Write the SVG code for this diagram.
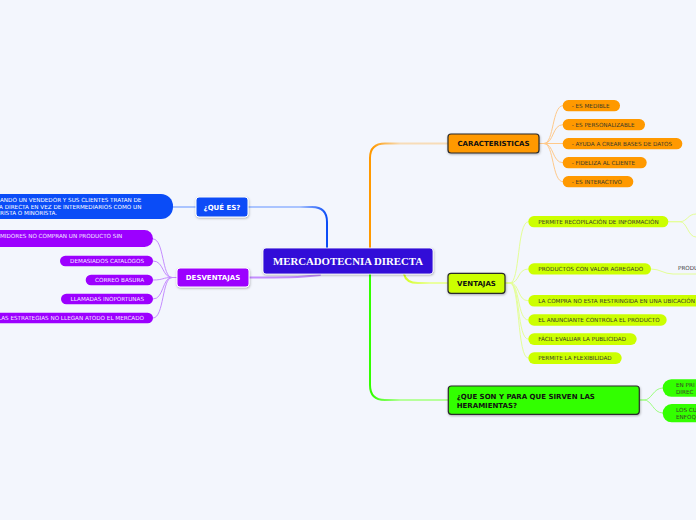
<svg xmlns="http://www.w3.org/2000/svg" width="696" height="520" viewBox="0 0 696 520">
<defs>
<style>
.lbl{font-family:"DejaVu Sans","Liberation Sans",sans-serif;font-weight:bold;font-size:7px}
.sm{font-family:"DejaVu Sans","Liberation Sans",sans-serif;font-size:5.65px}
.dk{fill:#3a3a2a}
.wt{fill:#ffffff}
.pw{fill:#f3e6ff}
.main{stroke-width:2;fill:none;stroke-linecap:round}
.thin{stroke-width:1;fill:none}
.bx{stroke:#2a2a2a;stroke-width:1.2}
.wb{stroke:#ffffff;stroke-width:1}
</style>
<filter id="sh" x="-10%" y="-20%" width="130%" height="160%">
<feDropShadow dx="0.5" dy="1" stdDeviation="0.8" flood-color="#000" flood-opacity="0.3"/>
</filter>
<linearGradient id="gB" gradientUnits="userSpaceOnUse" x1="300" y1="0" x2="327" y2="0"><stop offset="0" stop-color="#aac4ff"/><stop offset="1" stop-color="#0a4cf7"/></linearGradient>
<linearGradient id="gO" gradientUnits="userSpaceOnUse" x1="372" y1="0" x2="400" y2="0"><stop offset="0" stop-color="#ff9900"/><stop offset="1" stop-color="#f7dcb8"/></linearGradient>
<linearGradient id="gG" gradientUnits="userSpaceOnUse" x1="372" y1="0" x2="400" y2="0"><stop offset="0" stop-color="#33ff00"/><stop offset="1" stop-color="#b6ff9c"/></linearGradient>
<linearGradient id="gY" gradientUnits="userSpaceOnUse" x1="404" y1="0" x2="430" y2="0"><stop offset="0" stop-color="#d4ff20"/><stop offset="1" stop-color="#eaffa0"/></linearGradient>
</defs>
<rect width="696" height="520" fill="#f3f6fd"/>

<g id="connectors">
<path class="main" stroke="url(#gB)" d="M327 248 V222 Q327 207 312 207 H248"/>
<path class="main" stroke="#aac4ff" d="M196 207 H173"/>
<path class="main" stroke="url(#gO)" d="M370 248 V158 Q370 143.5 385 143.5 H448"/>
<path class="main" stroke="url(#gG)" d="M370 274 V385 Q370 400 385 400 H448"/>
<path class="main" stroke="url(#gY)" d="M404 274 Q406 283 418 283 H448"/>
<path class="main" stroke="#c48cff" d="M320 275 C300 278 280 277.5 249 277.5"/>
<g stroke="#c48cff" class="thin">
<path d="M177 277.5 H172 C162 277.5 164 239 153 239"/>
<path d="M177 277.5 H172 C162 277.5 164 261 153 261"/>
<path d="M177 277.5 H172 C162 277.5 164 280 153 280"/>
<path d="M177 277.5 H172 C162 277.5 164 299 153 299"/>
<path d="M177 277.5 H172 C162 277.5 164 318 153 318"/>
</g>
<g stroke="#ffc98a" class="thin">
<path d="M539 143.5 H544 C554 143.5 552 105.7 563 105.7"/>
<path d="M539 143.5 H544 C554 143.5 552 124.7 563 124.7"/>
<path d="M539 143.5 H563"/>
<path d="M539 143.5 H544 C554 143.5 552 162.7 563 162.7"/>
<path d="M539 143.5 H544 C554 143.5 552 181.7 563 181.7"/>
</g>
<g stroke="#e4ff96" class="thin">
<path d="M505 283 H510 C520 283 517 221.7 528.5 221.7"/>
<path d="M505 283 H510 C520 283 517 269 528.5 269"/>
<path d="M505 283 H510 C520 283 517 300.8 528.5 300.8"/>
<path d="M505 283 H510 C520 283 517 320 528.5 320"/>
<path d="M505 283 H510 C520 283 517 339.2 528.5 339.2"/>
<path d="M505 283 H510 C520 283 517 358.2 528.5 358.2"/>
<path d="M668 221.7 H680 C687 221.7 688 214 696 214"/>
<path d="M668 221.7 H680 C687 221.7 688 237 696 237"/>
<path d="M651 269 C660 269 664 274 673 274 H696"/>
</g>
<g stroke="#9dff80" class="thin">
<path d="M639.5 400 H644 C652 400 653 388 663 388"/>
<path d="M639.5 400 H644 C652 400 653 413 663 413"/>
</g>
</g>

<g id="central">
<rect x="263" y="248" width="170" height="26" rx="3" fill="#3010d8" stroke="#ffffff" stroke-width="0.8" filter="url(#sh)"/>
<text x="348" y="264.5" text-anchor="middle" fill="#ffffff" font-family="'Liberation Serif',serif" font-weight="bold" font-size="10.5" textLength="150" lengthAdjust="spacingAndGlyphs">MERCADOTECNIA DIRECTA</text>
</g>

<g id="que-es">
<rect x="196" y="197" width="52" height="20" rx="3" fill="#0a4cf7" class="wb" filter="url(#sh)"/>
<text x="222" y="209.5" text-anchor="middle" class="lbl wt">¿QUÉ ES?</text>
</g>
<g id="que-es-desc">
<rect x="-20" y="194" width="193" height="25" rx="12" fill="#0a4cf7"/>
<text class="sm wt"><tspan x="0" y="202">ANDO UN VENDEDOR Y SUS CLIENTES TRATAN DE</tspan><tspan x="-1" y="208.7">A DIRECTA EN VEZ DE INTERMEDIARIOS COMO UN</tspan><tspan x="0" y="215.4">RISTA O MINORISTA.</tspan></text>
</g>

<g id="desventajas">
<rect x="177" y="268" width="72" height="19" rx="3" fill="#9c00ff" class="wb" filter="url(#sh)"/>
<text x="213" y="280" text-anchor="middle" class="lbl wt">DESVENTAJAS</text>
</g>
<g id="des-1">
<rect x="-20" y="230" width="173" height="17" rx="8.5" fill="#9c00ff"/>
<text x="0" y="238" class="sm pw">MIDORES NO COMPRAN UN PRODUCTO SIN</text>
</g>
<g id="des-2">
<rect x="60" y="255.7" width="93" height="10.6" rx="5.3" fill="#9c00ff"/>
<text x="144" y="263" text-anchor="end" class="sm pw">DEMASIADOS CATALOGOS</text>
</g>
<g id="des-3">
<rect x="85.7" y="274.7" width="67.3" height="10.6" rx="5.3" fill="#9c00ff"/>
<text x="144" y="282" text-anchor="end" class="sm pw">CORREO BASURA</text>
</g>
<g id="des-4">
<rect x="61" y="293.7" width="92" height="10.6" rx="5.3" fill="#9c00ff"/>
<text x="144" y="301" text-anchor="end" class="sm pw">LLAMADAS INOPORTUNAS</text>
</g>
<g id="des-5">
<rect x="-20" y="312.7" width="173" height="10.6" rx="5.3" fill="#9c00ff"/>
<text x="144" y="320" text-anchor="end" class="sm pw">LAS ESTRATEGIAS NO LLEGAN ATODO EL MERCADO</text>
</g>

<g id="caracteristicas">
<rect x="448" y="134" width="91" height="19" rx="3" fill="#ff9900" class="bx" filter="url(#sh)"/>
<text x="493.5" y="146" text-anchor="middle" class="lbl" fill="#111">CARACTERISTICAS</text>
</g>
<g id="car-1"><rect x="562.7" y="100" width="57.3" height="11.3" rx="5.6" fill="#ff9900"/><text x="571.7" y="107.7" class="sm dk">- ES MEDIBLE</text></g>
<g id="car-2"><rect x="562.7" y="119" width="82.3" height="11.3" rx="5.6" fill="#ff9900"/><text x="571.7" y="126.7" class="sm dk">- ES PERSONALIZABLE</text></g>
<g id="car-3"><rect x="562.7" y="138" width="119.6" height="11.3" rx="5.6" fill="#ff9900"/><text x="571.7" y="145.7" class="sm dk">- AYUDA A CREAR BASES DE DATOS</text></g>
<g id="car-4"><rect x="562.7" y="157" width="84" height="11.3" rx="5.6" fill="#ff9900"/><text x="571.7" y="164.7" class="sm dk">- FIDELIZA AL CLIENTE</text></g>
<g id="car-5"><rect x="562.7" y="176" width="70.6" height="11.3" rx="5.6" fill="#ff9900"/><text x="571.7" y="183.7" class="sm dk">- ES INTERACTIVO</text></g>

<g id="ventajas">
<rect x="448" y="273.3" width="57" height="20" rx="3" fill="#ccff00" class="bx" filter="url(#sh)"/>
<text x="476.5" y="285.8" text-anchor="middle" class="lbl" fill="#111">VENTAJAS</text>
</g>
<g id="ven-1"><rect x="528.3" y="216" width="140" height="11.3" rx="5.6" fill="#ccff00"/><text x="538.3" y="223.7" class="sm dk">PERMITE RECOPILACIÓN DE INFORMACIÓN</text></g>
<g id="ven-2"><rect x="528.3" y="263.3" width="122.7" height="11.3" rx="5.6" fill="#ccff00"/><text x="538.3" y="271" class="sm dk">PRODUCTOS CON VALOR AGREGADO</text></g>
<g id="ven-2-1"><text x="678" y="270" class="sm" fill="#444">PRODU</text></g>
<g id="ven-3"><rect x="528.3" y="295" width="180" height="11.6" rx="5.8" fill="#ccff00"/><text x="538.3" y="302.8" class="sm dk">LA COMPRA NO ESTA RESTRINGIDA EN UNA UBICACIÓN</text></g>
<g id="ven-4"><rect x="528.3" y="314.3" width="138.4" height="11.4" rx="5.7" fill="#ccff00"/><text x="538.3" y="322" class="sm dk">EL ANUNCIANTE CONTROLA EL PRODUCTO</text></g>
<g id="ven-5"><rect x="528.3" y="333.3" width="108.4" height="11.6" rx="5.8" fill="#ccff00"/><text x="538.3" y="341.1" class="sm dk">FÁCIL EVALUAR LA PUBLICIDAD</text></g>
<g id="ven-6"><rect x="528.3" y="352.3" width="93.4" height="11.6" rx="5.8" fill="#ccff00"/><text x="538.3" y="360.1" class="sm dk">PERMITE LA FLEXIBILIDAD</text></g>

<g id="herramientas">
<rect x="448.3" y="386" width="191" height="28.3" rx="3" fill="#33ff00" class="bx" filter="url(#sh)"/>
<text class="lbl" fill="#111"><tspan x="456.7" y="399">¿QUE SON Y PARA QUE SIRVEN LAS</tspan><tspan x="456.7" y="407.5">HERAMIENTAS?</tspan></text>
</g>
<g id="her-1"><rect x="662.7" y="379.3" width="60" height="17.4" rx="8.7" fill="#33ff00"/><text class="sm dk"><tspan x="676" y="387">EN PRI</tspan><tspan x="676" y="393.5">DIREC</tspan></text></g>
<g id="her-2"><rect x="662.7" y="404" width="60" height="18.3" rx="9" fill="#33ff00"/><text class="sm dk"><tspan x="676" y="412">LOS CU</tspan><tspan x="676" y="418.5">ENFOQ</tspan></text></g>
</svg>
